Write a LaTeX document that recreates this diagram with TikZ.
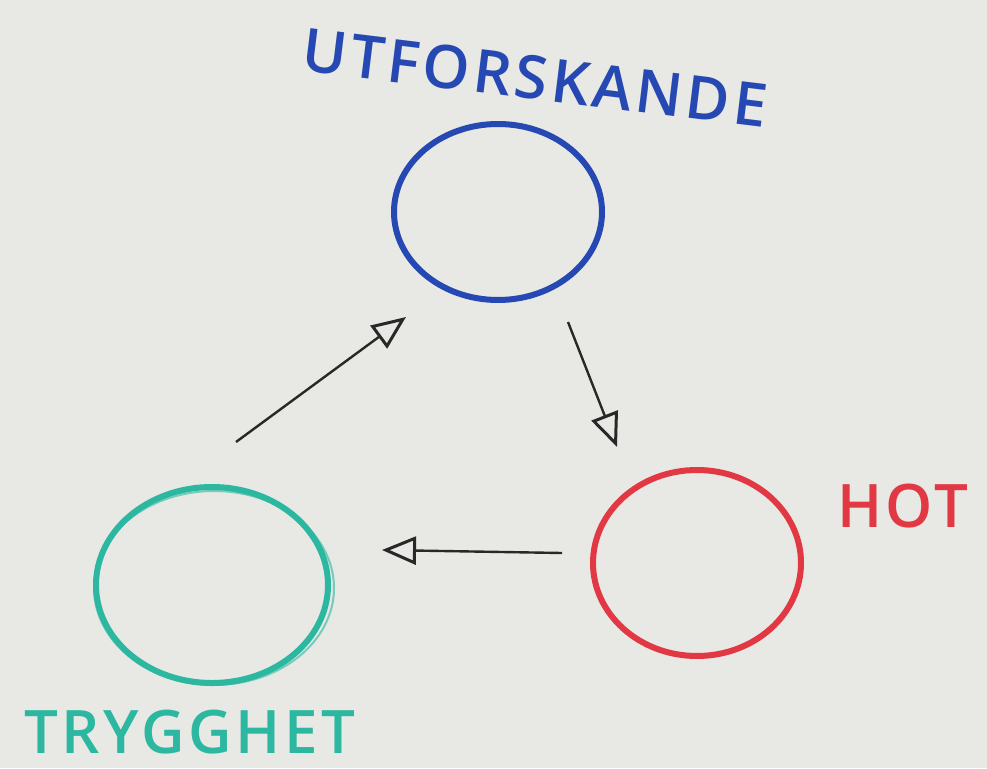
\documentclass[tikz,border=0pt]{standalone}
\usepackage{fontspec}
\setmainfont{Open Sans}
\newfontfamily\hand[LetterSpace=6,BoldFont={Open Sans Semibold}]{Open Sans}
\usetikzlibrary{arrows.meta}
\definecolor{board}{RGB}{232,232,229}
\definecolor{mblue}{RGB}{38,72,178}
\definecolor{mred}{RGB}{226,56,68}
\definecolor{mteal}{RGB}{44,184,160}
\definecolor{mblack}{RGB}{40,40,40}
\begin{document}
\begin{tikzpicture}[x=1pt,y=-1pt,
  ring/.style={line width=6pt},
  link/.style={draw=mblack,line width=2.4pt,-{Triangle[open,length=34pt,width=28pt,line width=3pt]}},
  word/.style={font=\hand\bfseries\fontsize{60}{60}\selectfont,inner sep=0pt}]
\fill[board] (0,0) rectangle (987,768);
\useasboundingbox (0,0) rectangle (987,768);
% circles
\draw[ring,mblue] (498,212) ellipse [x radius=104, y radius=88];
\node (expl) at (498,212) {};
\draw[ring,mred] (697,563) ellipse [x radius=104, y radius=93];
\node (threat) at (697,563) {};
\draw[ring,mteal] (212,585) ellipse [x radius=116, y radius=98];
\draw[mteal,line width=2pt,opacity=0.6] (214,588) ellipse [x radius=120, y radius=97];
\node (safe) at (212,585) {};
% labels
\node[word,text=mblue,rotate=-7] (lexpl) at (535,78) {UTFORSKANDE};
\node[word,text=mred] (lthreat) at (903,506) {HOT};
\node[word,text=mteal] (lsafe) at (190,732) {TRYGGHET};
% arrows
\coordinate (a1s) at (236,442);
\coordinate (a1e) at (406,317);
\coordinate (a2s) at (568,322);
\coordinate (a2e) at (617,447);
\coordinate (a3s) at (562,553);
\coordinate (a3e) at (382,550);
\draw[link] (a1s) -- (a1e);
\draw[link] (a2s) -- (a2e);
\draw[link] (a3s) -- (a3e);
\end{tikzpicture}
\end{document}
